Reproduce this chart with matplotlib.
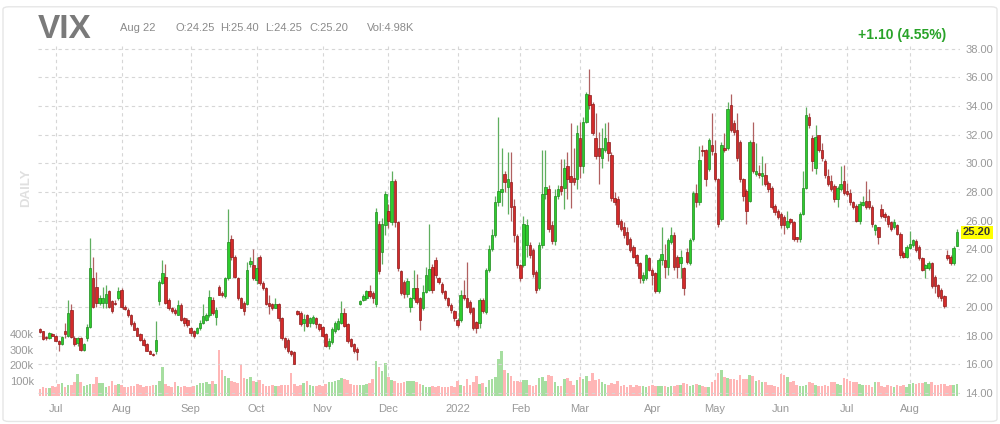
import matplotlib
matplotlib.use('Agg')
import matplotlib.pyplot as plt
from matplotlib.patches import FancyBboxPatch
from matplotlib import transforms
import numpy as np
import pandas as pd

plt.rcParams['font.family'] = ['Liberation Sans', 'DejaVu Sans']

# trading days, VIX front month continuous, Jun 24 2021 - Aug 22 2022
holidays = ['2021-07-05', '2021-09-06', '2021-11-25', '2021-12-24', '2022-01-17',
            '2022-02-21', '2022-04-15', '2022-05-30', '2022-06-20', '2022-07-04']
dates = pd.bdate_range('2021-06-24', '2022-08-22', freq='C', holidays=holidays)

opens = [
    18.45, 18.3, 17.85, 17.8, 18.1,  # jun
    17.95, 17.65, 17.4, 18.3, 18.0, 19.8, 17.85, 17.45, 17.8, 17.0, 17.8, 18.6, 22.0, 21.4, 20.3, 20.3, 20.3, 21.1, 20.4, 20.3, 20.6,  # jul
    21.2, 20.0, 19.8, 19.4, 18.9, 18.5, 18.1, 17.7, 17.4, 16.9, 16.75, 16.9, 20.4, 21.65, 22.1, 20.5, 19.9, 19.8, 19.45, 20.1, 19.2, 19.1,  # aug
    18.5, 18.3, 18.2, 18.5, 18.9, 19.1, 19.45, 20.5, 19.3, 21.4, 21.0, 20.75, 22.0, 24.75, 23.5, 22.0, 20.6, 20.3, 20.2, 23.0, 22.9,  # sep
    21.9, 23.5, 21.65, 21.3, 20.3, 20.2, 19.95, 20.2, 19.25, 17.8, 17.7, 16.95, 16.85, 19.7, 19.6, 18.9, 19.4, 18.85, 18.9, 19.2, 18.8,  # oct
    18.6, 18.1, 17.3, 17.55, 18.35, 18.45, 18.9, 19.6, 18.8, 17.75, 17.4, 17.1, 20.2, 20.5, 20.6, 21.1, 21.0, 20.2, 25.8, 23.8, 25.7,  # nov
    26.7, 25.9, 28.75, 25.9, 22.5, 21.7, 20.9, 20.0, 20.6, 21.3, 20.6, 19.9, 21.05, 21.2, 22.8, 23.25, 22.0, 21.6, 21.1, 20.6, 20.15, 19.7,  # dec
    19.1, 19.1, 20.8, 20.6, 20.35, 19.9, 18.95, 18.85, 20.5, 19.65, 22.6, 24.05, 25.0, 27.3, 28.0, 29.25, 28.35, 28.7, 27.05, 24.95,  # jan
    22.9, 22.95, 24.3, 24.3, 23.95, 22.4, 21.3, 24.3, 27.9, 28.2, 25.7, 24.6, 27.75, 28.45, 28.3, 29.8, 29.15, 29.0, 28.9,  # feb
    31.75, 29.8, 32.9, 34.75, 34.15, 31.75, 31.05, 30.4, 30.95, 31.5, 30.6, 27.6, 27.5, 26.0, 25.55, 25.2, 24.75, 24.2, 23.6, 23.05, 21.9, 22.0, 23.4,  # mar
    22.6, 22.35, 21.1, 23.25, 23.25, 22.8, 24.55, 25.0, 23.5, 23.05, 22.7, 23.85, 23.05, 24.75, 27.95, 27.3, 30.95, 30.95, 29.6, 31.3,  # apr
    30.7, 28.9, 26.15, 31.1, 31.05, 34.05, 32.8, 32.35, 31.5, 28.9, 28.1, 27.4, 31.5, 29.25, 29.35, 29.1, 29.2, 28.65, 28.3, 27.05, 26.7,  # may
    26.5, 26.25, 25.55, 26.1, 25.9, 24.85, 24.75, 26.5, 28.3, 33.25, 31.75, 29.7, 31.95, 30.95, 30.15, 29.1, 28.75, 28.45, 27.5, 28.2, 28.75,  # jun
    28.1, 27.95, 27.3, 27.05, 26.0, 27.1, 27.4, 27.35, 26.95, 25.35, 25.55, 26.8, 26.5, 26.35, 25.9, 25.55, 25.7, 25.1, 23.75, 23.5,  # jul
    24.1, 24.3, 24.6, 24.2, 23.4, 22.7, 22.7, 23.05, 22.1, 21.55, 21.2, 20.75, 23.6, 23.5, 23.05, 24.25,  # aug
]
highs = [
    18.55, 18.35, 17.95, 18.25, 18.15,
    18.05, 17.7, 18.0, 18.9, 20.5, 20.2, 17.95, 17.9, 17.9, 17.5, 18.8, 24.8, 23.5, 22.4, 20.8, 21.4, 21.5, 21.2, 20.5, 20.5, 21.4,
    21.3, 20.1, 19.9, 19.5, 19.0, 18.6, 18.2, 17.8, 17.5, 17.0, 16.8, 19.0, 21.9, 23.3, 23.0, 20.6, 20.0, 19.9, 20.5, 20.3, 19.3, 19.2,
    18.6, 18.4, 18.6, 19.1, 20.2, 19.6, 21.2, 20.7, 20.0, 21.5, 21.1, 22.1, 26.8, 25.0, 23.6, 22.1, 20.7, 20.4, 23.15, 23.5, 24.0,
    23.5, 23.6, 21.8, 21.4, 20.85, 20.3, 20.6, 20.3, 19.3, 17.9, 17.8, 17.0, 16.9, 19.8, 19.7, 19.5, 19.5, 19.3, 19.4, 19.3, 18.9,
    18.7, 18.2, 17.8, 18.6, 19.0, 19.2, 20.4, 19.9, 18.9, 17.8, 17.5, 17.2, 20.5, 20.9, 21.2, 21.55, 21.1, 26.9, 26.0, 26.2, 28.1,
    27.2, 29.5, 28.9, 26.0, 22.6, 21.9, 22.0, 20.7, 22.55, 22.3, 20.7, 21.5, 22.8, 25.8, 23.0, 23.5, 22.1, 21.7, 21.2, 20.7, 20.3, 19.8,
    19.2, 21.2, 21.85, 23.1, 20.5, 20.0, 19.0, 20.6, 20.6, 22.7, 24.3, 25.4, 27.75, 33.2, 31.1, 29.5, 30.8, 30.8, 27.5, 25.1,
    23.0, 26.3, 26.1, 24.5, 24.1, 22.6, 24.5, 30.9, 30.9, 28.5, 26.0, 28.2, 28.5, 30.3, 30.3, 30.8, 32.8, 31.1, 32.7,
    32.9, 33.25, 35.0, 36.55, 34.3, 33.5, 32.2, 32.45, 32.8, 32.9, 30.8, 28.0, 27.7, 26.1, 25.9, 25.55, 24.9, 24.3, 23.7, 23.1, 22.4, 23.7, 23.5,
    22.7, 22.4, 23.4, 25.55, 24.4, 24.8, 25.55, 25.2, 23.6, 23.95, 22.8, 24.1, 24.8, 28.1, 28.55, 31.2, 31.3, 31.0, 31.75, 33.5,
    31.65, 29.0, 31.5, 32.1, 34.3, 34.85, 33.0, 33.5, 31.6, 29.0, 28.2, 31.65, 32.9, 31.4, 29.9, 30.5, 30.0, 28.8, 28.4, 27.2, 26.8,
    26.6, 26.4, 26.7, 26.2, 26.0, 24.9, 26.6, 29.45, 33.95, 33.5, 32.0, 32.65, 32.0, 31.4, 30.3, 29.6, 29.2, 28.55, 28.4, 29.8, 29.9,
    28.65, 28.2, 27.4, 27.2, 27.4, 27.75, 28.75, 28.2, 27.1, 25.8, 25.6, 27.15, 26.6, 26.4, 26.0, 26.1, 25.8, 25.2, 23.9, 24.3,
    25.3, 24.75, 24.7, 24.3, 23.5, 23.0, 23.2, 23.1, 22.2, 21.6, 21.3, 20.8, 23.95, 23.6, 24.25, 25.4,
]
lows = [
    18.2, 17.7, 17.7, 17.75, 17.95,
    17.6, 16.9, 17.35, 17.8, 17.9, 17.8, 17.3, 17.3, 16.9, 16.9, 17.6, 18.5, 19.9, 20.0, 20.1, 19.9, 19.9, 19.9, 19.6, 20.1, 20.5,
    19.9, 19.8, 19.3, 18.7, 18.4, 18.0, 17.6, 17.3, 16.9, 16.7, 16.6, 16.7, 20.1, 21.6, 20.2, 19.8, 19.6, 19.4, 19.4, 19.0, 18.7, 18.6,
    18.0, 17.85, 18.1, 18.4, 18.8, 19.0, 19.3, 19.4, 18.75, 20.8, 20.7, 20.6, 21.9, 23.3, 22.0, 20.5, 19.9, 19.4, 20.1, 22.8, 21.9,
    21.6, 21.5, 21.2, 20.1, 19.5, 19.8, 19.9, 19.0, 17.7, 17.1, 16.8, 16.6, 16.0, 19.4, 18.7, 18.35, 18.6, 18.6, 18.8, 18.5, 18.3,
    17.9, 17.2, 17.1, 17.4, 18.2, 18.4, 18.8, 18.6, 17.5, 17.2, 16.8, 16.3, 20.1, 20.4, 20.5, 20.6, 20.3, 20.0, 22.3, 23.0, 25.0,
    25.5, 25.7, 25.6, 22.5, 20.8, 20.6, 20.7, 19.65, 20.5, 20.2, 18.4, 19.8, 21.0, 21.1, 21.0, 22.0, 21.6, 20.9, 20.5, 20.0, 19.6, 19.0,
    18.6, 18.95, 20.5, 19.9, 19.5, 18.4, 18.2, 18.5, 19.6, 19.5, 22.4, 23.9, 24.9, 27.0, 27.0, 28.0, 26.5, 26.0, 24.5, 22.7,
    21.8, 22.8, 23.5, 23.4, 22.1, 21.0, 21.2, 24.1, 27.5, 25.2, 24.4, 24.3, 27.5, 27.8, 26.8, 27.5, 26.9, 28.5, 28.2,
    29.0, 29.35, 32.8, 33.8, 32.0, 30.3, 28.55, 29.7, 30.8, 30.15, 27.4, 27.1, 25.6, 25.3, 24.8, 24.3, 23.8, 23.4, 22.85, 21.65, 21.65, 21.9, 22.5,
    21.55, 21.0, 21.0, 22.9, 22.0, 22.25, 24.4, 22.6, 22.0, 22.0, 20.85, 23.0, 22.9, 24.6, 26.95, 27.1, 30.5, 28.4, 29.5, 30.6,
    28.8, 25.6, 26.0, 30.8, 30.9, 32.2, 32.0, 30.2, 28.7, 27.4, 25.8, 27.3, 29.3, 29.1, 29.0, 28.5, 28.4, 28.0, 26.8, 26.4, 26.1,
    25.5, 25.1, 25.4, 25.8, 24.6, 24.5, 24.5, 26.4, 28.2, 32.5, 29.45, 29.25, 30.8, 30.2, 29.0, 28.4, 28.1, 27.3, 26.95, 28.1, 27.8,
    27.7, 27.1, 26.8, 25.9, 25.8, 27.0, 26.8, 26.8, 25.6, 25.0, 24.4, 26.2, 26.0, 25.6, 25.3, 25.4, 25.0, 23.4, 23.4, 23.4,
    24.0, 24.2, 23.8, 23.3, 22.5, 22.0, 22.6, 21.3, 21.0, 20.6, 20.4, 19.95, 23.3, 22.9, 22.95, 24.25,
]
closes = [
    18.25, 17.75, 17.8, 18.15, 18.0,
    17.65, 17.4, 17.9, 18.1, 19.6, 17.9, 17.4, 17.8, 17.0, 17.4, 18.6, 22.7, 20.0, 20.3, 20.6, 20.6, 20.9, 20.0, 19.7, 20.2, 21.1,
    20.0, 19.85, 19.4, 18.8, 18.4, 18.0, 17.7, 17.35, 16.95, 16.75, 16.65, 17.7, 21.75, 22.35, 20.25, 19.9, 19.7, 19.55, 20.15, 19.1, 18.9, 18.75,
    18.2, 17.95, 18.5, 18.9, 19.35, 19.45, 20.7, 19.55, 19.8, 20.85, 20.8, 22.0, 24.5, 23.5, 22.1, 20.6, 19.95, 19.7, 22.6, 23.2, 22.0,
    22.7, 21.65, 21.3, 20.2, 20.05, 19.95, 20.2, 19.25, 17.8, 17.2, 16.9, 16.75, 16.05, 19.5, 18.8, 19.15, 18.7, 19.2, 19.3, 18.8, 18.45,
    18.0, 17.3, 17.65, 18.45, 18.9, 19.0, 19.6, 18.7, 17.65, 17.3, 16.95, 16.85, 20.4, 20.75, 21.1, 20.75, 20.6, 26.6, 22.5, 25.8, 27.85,
    26.0, 28.75, 25.9, 22.7, 21.0, 20.9, 21.8, 20.6, 21.3, 20.35, 19.1, 21.05, 22.2, 22.65, 21.2, 22.2, 21.75, 21.05, 20.6, 20.1, 19.8, 19.2,
    18.75, 20.8, 20.6, 20.0, 19.65, 18.5, 18.5, 20.5, 19.7, 22.55, 24.05, 25.0, 27.3, 28.1, 28.2, 28.7, 28.9, 26.95, 25.0, 22.9,
    22.0, 25.8, 25.7, 23.6, 22.3, 21.2, 24.3, 27.9, 28.35, 25.45, 24.6, 27.75, 28.2, 28.1, 29.7, 28.9, 28.7, 28.7, 32.15,
    29.8, 32.9, 34.85, 34.05, 32.1, 30.5, 30.5, 31.05, 31.75, 30.7, 27.6, 27.3, 25.8, 25.45, 25.0, 24.4, 23.95, 23.5, 23.05, 22.0, 22.25, 23.6, 22.6,
    22.25, 21.1, 23.25, 23.7, 22.8, 24.65, 25.0, 22.8, 22.8, 23.5, 21.3, 23.15, 24.65, 27.95, 27.3, 30.25, 30.85, 28.9, 31.65, 30.85,
    28.9, 25.8, 31.3, 30.95, 33.8, 32.35, 32.2, 30.4, 28.9, 27.75, 26.7, 31.5, 29.45, 29.45, 29.2, 29.35, 28.55, 28.2, 26.95, 26.6, 26.25,
    25.7, 25.7, 26.0, 25.9, 24.75, 24.75, 26.5, 28.3, 33.35, 32.65, 30.15, 31.85, 30.95, 30.4, 29.2, 28.55, 28.2, 27.5, 28.3, 28.55, 27.95,
    27.85, 27.3, 26.95, 26.0, 27.15, 27.3, 26.95, 26.95, 25.8, 25.7, 24.85, 26.35, 26.25, 25.8, 25.45, 25.9, 25.1, 23.6, 23.5, 24.2,
    24.4, 24.65, 23.95, 23.4, 22.6, 22.9, 23.05, 21.45, 21.45, 20.75, 20.6, 20.05, 23.4, 23.05, 24.1, 25.2,
]
# volume in thousands
volumes = [
    48, 55, 52, 50, 62,
    58, 75, 82, 60, 70, 68, 88, 145, 92, 65, 70, 80, 78, 125, 85, 82, 60, 62, 98, 70, 75,
    72, 58, 60, 66, 62, 78, 70, 60, 64, 66, 68, 72, 96, 190, 80, 66, 58, 92, 66, 60, 62, 58,
    60, 64, 72, 82, 85, 92, 80, 95, 78, 300, 165, 130, 115, 95, 90, 86, 205, 118, 112, 120, 100,
    92, 105, 80, 62, 66, 70, 62, 66, 68, 70, 72, 148, 80, 62, 68, 85, 98, 68, 62, 64, 70,
    66, 78, 88, 92, 95, 102, 118, 110, 105, 80, 72, 70, 72, 68, 75, 82, 110, 228, 190, 160, 210,
    125, 105, 98, 82, 84, 88, 100, 98, 100, 92, 80, 70, 60, 58, 62, 58, 62, 55, 60, 58, 62, 58,
    100, 70, 65, 112, 70, 90, 126, 78, 85, 60, 102, 108, 120, 240, 290, 170, 150, 126, 96, 100,
    90, 105, 102, 70, 66, 68, 115, 120, 100, 135, 128, 92, 62, 64, 108, 115, 100, 70, 105,
    120, 110, 130, 95, 150, 105, 110, 90, 80, 70, 82, 76, 100, 65, 70, 60, 68, 60, 72, 62, 66, 60, 65,
    68, 62, 64, 66, 65, 60, 62, 65, 68, 72, 85, 80, 65, 72, 75, 70, 62, 58, 60, 90,
    105, 150, 165, 125, 118, 112, 110, 105, 135, 108, 112, 138, 130, 95, 105, 88, 92, 70, 68, 62, 60,
    145, 135, 120, 88, 95, 68, 66, 64, 68, 88, 85, 70, 62, 66, 68, 64, 90, 92, 75, 70, 115,
    108, 100, 92, 90, 78, 72, 70, 72, 60, 90, 92, 62, 60, 72, 62, 60, 70, 65, 68, 60,
    80, 82, 76, 85, 82, 88, 80, 90, 68, 70, 80, 78, 66, 72, 68, 75,
]
price_ticks = list(range(14, 39, 2))
vol_ticks = [100, 200, 300, 400]
vol_labels = ['100k', '200k', '300k', '400k']

n = len(dates)
assert len(opens) == len(highs) == len(lows) == len(closes) == len(volumes) == n

o = np.array(opens); h = np.array(highs); l = np.array(lows); c = np.array(closes)
x = np.arange(n)
up = c >= o

fig = plt.figure(figsize=(10, 4.24), dpi=100)
fig.patches.append(FancyBboxPatch((0.003, 0.006), 0.994, 0.978,
                                  boxstyle='round,pad=0,rounding_size=0.006',
                                  transform=fig.transFigure, fill=False,
                                  edgecolor='#e6e6e6', lw=1))

axv = fig.add_axes([0.038, 28 / 424, 0.922, 350 / 424])
axp = axv.twinx()

# volume
axv.bar(x, volumes, width=0.82, color=np.where(up, '#a6dea0', '#ffb6b6'), lw=0, zorder=2)
axv.set_ylim(0, 2260)
axv.set_yticks(vol_ticks)
axv.set_yticklabels(vol_labels)
axv.tick_params(axis='y', length=0, labelsize=8, labelcolor='#999999', pad=3)

# month gridlines
month_pos = [i for i in range(n) if i == 0 or dates[i].month != dates[i - 1].month][1:]
month_lab = [dates[i].strftime('%b') if dates[i].month != 1 else str(dates[i].year) for i in month_pos]
axv.set_xticks(month_pos)
axv.set_xticklabels(month_lab)
axv.tick_params(axis='x', length=0, labelsize=8, labelcolor='#999999', pad=6)
axv.grid(axis='x', color='#d6d6d6', ls=(0, (3, 3)), lw=0.8, zorder=0)
axv.set_axisbelow(True)

# candles
wick_col = np.where(up, '#5fae5f', '#b06060')
body_col = np.where(up, '#2ecc2e', '#d42a2a')
edge_col = np.where(up, '#1f8a1f', '#8c1b1b')
axp.vlines(x, l, h, colors=wick_col, lw=0.9, zorder=3)
axp.bar(x, np.maximum(np.abs(c - o), 0.07), bottom=np.minimum(o, c), width=0.78,
        color=body_col, edgecolor=edge_col, lw=0.5, zorder=4)
axp.set_ylim(13.79, 38.18)
axp.set_xlim(-0.6, 293.0)
axp.set_yticks(price_ticks)
axp.set_yticklabels([f'{t:.2f}' for t in price_ticks])
axp.tick_params(axis='y', length=0, labelsize=8, labelcolor='#999999', pad=4)
axp.grid(axis='y', color='#d6d6d6', ls=(0, (3, 3)), lw=0.8, zorder=0)

for a in (axv, axp):
    for s in a.spines.values():
        s.set_visible(False)
    a.patch.set_visible(False)

# last price tag
tr = transforms.blended_transform_factory(axp.transAxes, axp.transData)
axp.text(1.003, closes[-1], f'{closes[-1]:.2f}', transform=tr, ha='left', va='center',
         fontsize=8, fontweight='bold', color='#333333',
         bbox=dict(boxstyle='square,pad=0.15', fc='#ffff00', ec='none'), zorder=10)

# header
fig.text(0.038, 1 - 29 / 424, 'VIX', fontsize=24, fontweight='bold', color='#7a7a7a', va='center')
hy = 1 - 28 / 424
fig.text(0.1205, hy, 'Aug 22', fontsize=8, color='#8a8a8a', va='center')
fig.text(0.175, hy, f'O:{opens[-1]:.2f}', fontsize=8, color='#8a8a8a', va='center')
fig.text(0.2205, hy, f'H:{highs[-1]:.2f}', fontsize=8, color='#8a8a8a', va='center')
fig.text(0.2655, hy, f'L:{lows[-1]:.2f}', fontsize=8, color='#8a8a8a', va='center')
fig.text(0.309, hy, f'C:{closes[-1]:.2f}', fontsize=8, color='#8a8a8a', va='center')
fig.text(0.3665, hy, 'Vol:4.98K', fontsize=8, color='#8a8a8a', va='center')
fig.text(0.946, 1 - 35 / 424, '+1.10 (4.55%)', fontsize=10,
         fontweight='bold', color='#29a329', ha='right', va='center')
fig.text(0.026, 1 - 188 / 424, 'DAILY', fontsize=9.5, fontweight='bold', color='#e0e0e0',
         rotation=90, ha='center', va='center')

fig.savefig('out.png', dpi=100)
